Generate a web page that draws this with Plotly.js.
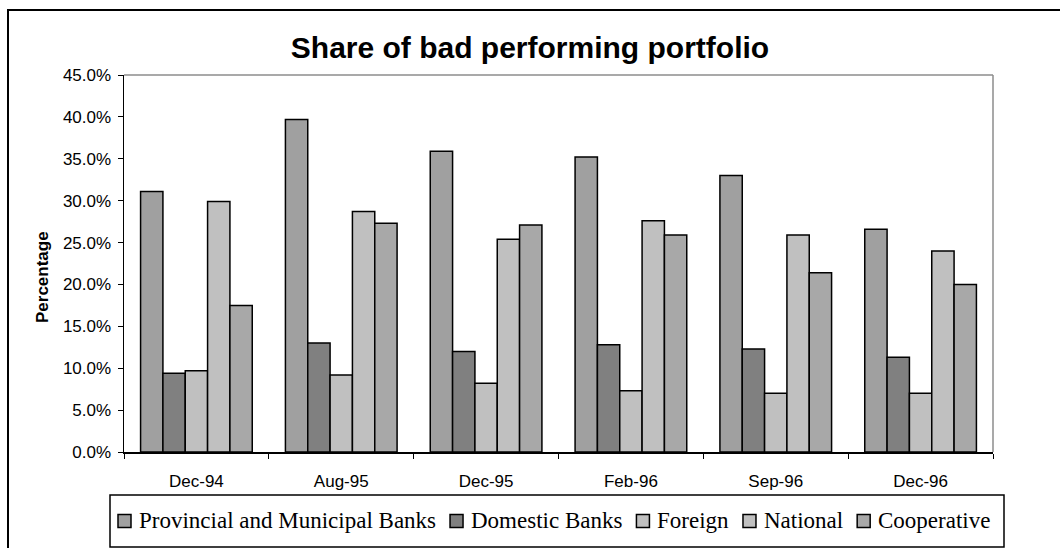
<!DOCTYPE html>
<html>
<head>
<meta charset="utf-8">
<script src="https://cdn.plot.ly/plotly-3.0.1.min.js"></script>
<style>
  html, body { margin: 0; padding: 0; background: #ffffff; overflow: hidden; }
  #chart { width: 1060px; height: 548px; }
</style>
</head>
<body>
<div id="chart"></div>
<script>
// ---- Data (percent) ----
const categories = ['Dec-94', 'Aug-95', 'Dec-95', 'Feb-96', 'Sep-96', 'Dec-96'];
const provincial = [31.1, 39.7, 35.9, 35.2, 33.0, 26.6];
const domestic = [9.4, 13.0, 12.0, 12.8, 12.3, 11.3];
const foreign = [9.7, 9.2, 8.2, 7.3, 7.0, 7.0];
const national = [29.9, 28.7, 25.4, 27.6, 25.9, 24.0];
const cooperative = [17.5, 27.3, 27.1, 25.9, 21.4, 20.0];

const seriesNames = ['Provincial and Municipal Banks', 'Domestic Banks', 'Foreign', 'National', 'Cooperative'];
const seriesValues = [provincial, domestic, foreign, national, cooperative];
const seriesColors = ['#a0a0a0', '#808080', '#c0c0c0', '#c0c0c0', '#a8a8a8'];

const traces = seriesNames.map((name, i) => ({
  type: 'bar',
  name: name,
  x: categories,
  y: seriesValues[i],
  marker: { color: seriesColors[i], line: { color: '#000000', width: 1.5 } },
  hoverinfo: 'x+y+name'
}));

// geometry (pixels)
const W = 1060, H = 548;
const M = { l: 124, r: 67, t: 75, b: 96 };
const PW = W - M.l - M.r, PH = H - M.t - M.b;
const px = v => (v - M.l) / PW;          // pixel x -> paper x
const py = v => (H - M.b - v) / PH;      // pixel y -> paper y

// ---- legend drawn as shapes + annotations, laid out from measured text widths ----
const legendFontFamily = 'Liberation Serif, Times New Roman, serif';
const legendFontSize = 23;
const ctx = document.createElement('canvas').getContext('2d');
ctx.font = legendFontSize + 'px "Liberation Serif", "Times New Roman", serif';
const legendShapes = [];
const legendAnnotations = [];
let cursor = 118;            // left edge of first swatch
const legendMid = 521;       // vertical centre of legend row
const sw = 13;               // swatch size
seriesNames.forEach((name, i) => {
  legendShapes.push({
    type: 'rect', xref: 'paper', yref: 'paper',
    x0: px(cursor), x1: px(cursor + sw),
    y0: py(legendMid + sw / 2), y1: py(legendMid - sw / 2),
    fillcolor: seriesColors[i], line: { color: '#000000', width: 1.5 }
  });
  const tx = cursor + 22;
  legendAnnotations.push({
    xref: 'paper', yref: 'paper', x: px(tx - 2), y: py(legendMid - 1),
    xanchor: 'left', yanchor: 'middle', showarrow: false,
    text: name, borderpad: 0,
    font: { family: legendFontFamily, size: legendFontSize, color: '#000000' }
  });
  cursor = tx + ctx.measureText(name).width + 13;
});

const layout = {
  width: W,
  height: H,
  margin: { l: M.l, r: M.r, t: M.t, b: M.b, pad: 0 },
  paper_bgcolor: '#ffffff',
  plot_bgcolor: '#ffffff',
  font: { family: 'Liberation Sans, Arial, sans-serif', color: '#000000', size: 17 },
  title: {
    text: '<b>Share of bad performing portfolio</b>',
    font: { family: 'Liberation Sans, Arial, sans-serif', size: 30, color: '#000000' },
    xref: 'container', x: 0.5, xanchor: 'center',
    yref: 'container', y: 1 - 47 / H, yanchor: 'middle'
  },
  barmode: 'group',
  bargap: 0.229,
  bargroupgap: 0,
  showlegend: false,
  xaxis: {
    type: 'category',
    showgrid: false,
    zeroline: false,
    showline: true,
    linecolor: '#000000',
    linewidth: 1.5,
    ticks: 'outside',
    tickson: 'boundaries',
    ticklen: 5,
    tickwidth: 1,
    tickcolor: '#000000',
    ticklabelstandoff: 13,
    tickfont: { family: 'Liberation Sans, Arial, sans-serif', size: 17, color: '#000000' }
  },
  yaxis: {
    range: [0, 45],
    dtick: 5,
    tick0: 0,
    tickformat: '.1f',
    ticksuffix: '%',
    showgrid: false,
    zeroline: false,
    showline: true,
    linecolor: '#000000',
    linewidth: 1.5,
    ticks: 'outside',
    ticklen: 5,
    tickwidth: 1,
    tickcolor: '#000000',
    ticklabelstandoff: 3,
    tickfont: { family: 'Liberation Sans, Arial, sans-serif', size: 17, color: '#000000' }
  },
  annotations: [
    {
      xref: 'paper', yref: 'paper', x: px(42), y: py(277),
      xanchor: 'center', yanchor: 'middle', showarrow: false, textangle: -90,
      text: '<b>Percentage</b>',
      font: { family: 'Liberation Sans, Arial, sans-serif', size: 17, color: '#000000' }
    }
  ].concat(legendAnnotations),
  shapes: [
    // plot-area top and right border (gray)
    { type: 'line', xref: 'paper', yref: 'paper', x0: 0, x1: 1, y0: 1, y1: 1,
      line: { color: '#8c8c8c', width: 1.5 } },
    { type: 'line', xref: 'paper', yref: 'paper', x0: 1, x1: 1, y0: 0, y1: 1,
      line: { color: '#8c8c8c', width: 1.5 } },
    // legend box
    { type: 'rect', xref: 'paper', yref: 'paper',
      x0: px(110), x1: px(1004), y0: py(547), y1: py(495),
      line: { color: '#000000', width: 1.5 }, fillcolor: 'rgba(0,0,0,0)' },
    // outer chart border
    { type: 'rect', xref: 'paper', yref: 'paper',
      x0: px(8), x1: px(1075), y0: py(570), y1: py(10),
      line: { color: '#000000', width: 2 }, fillcolor: 'rgba(0,0,0,0)' }
  ].concat(legendShapes)
};

Plotly.newPlot('chart', traces, layout, { displayModeBar: false, staticPlot: true });
</script>
</body>
</html>
